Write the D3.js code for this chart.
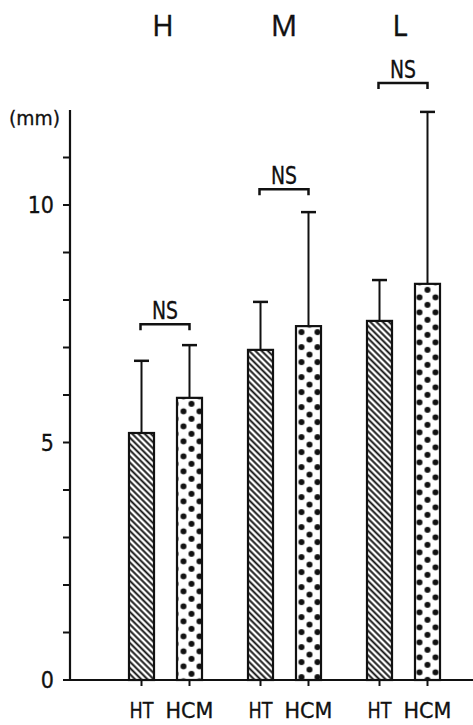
<!DOCTYPE html>
<html><head><meta charset="utf-8">
<script src="https://cdn.jsdelivr.net/npm/d3@7"></script>
<style>body{margin:0;background:#fff}svg{display:block}</style>
</head><body>
<script>
const groups = ["H","M","L"];
const subgroups = ["HT","HCM"];
const means = {H:[5.2,5.94], M:[6.95,7.45], L:[7.56,8.34]};
const upper = {H:[6.72,7.05], M:[7.96,9.85], L:[8.42,11.96]};
const sigLabels = ["NS","NS","NS"];
const yTickLabels = [0,5,10];
const yMinorTicks = [0,1,2,3,4,5,6,7,8,9,10,11];

const W=473,H=725;
const FONT="DejaVu Sans Condensed, sans-serif";
const svg=d3.select("body").append("svg").attr("width",W).attr("height",H);
const defs=svg.append("defs");
const hatch=defs.append("pattern").attr("id","hatch").attr("patternUnits","userSpaceOnUse")
  .attr("width",4.4).attr("height",4.4).attr("patternTransform","rotate(45)");
hatch.append("rect").attr("width",4.4).attr("height",4.4).attr("fill","#fff");
hatch.append("line").attr("x1",0).attr("y1",2.2).attr("x2",4.4).attr("y2",2.2).attr("stroke","#111").attr("stroke-width",1.9);

const y=d3.scaleLinear().domain([0,12]).range([680,110]);
const x0=d3.scaleBand().domain(groups).range([106,463]);
const x1=d3.scaleBand().domain(subgroups).range([23,96]).paddingInner(0.479);

groups.forEach(gk=>{
  const cx=x0(gk)+x1("HCM")+x1.bandwidth()/2;
  const p=defs.append("pattern").attr("id","dots"+gk).attr("patternUnits","userSpaceOnUse")
    .attr("width",16).attr("height",15).attr("x",cx-8).attr("y",y(means[gk][1])+3);
  p.append("rect").attr("width",16).attr("height",15).attr("fill","#fff");
  p.append("circle").attr("cx",0).attr("cy",3).attr("r",3).attr("fill","#111");
  p.append("circle").attr("cx",16).attr("cy",3).attr("r",3).attr("fill","#111");
  p.append("circle").attr("cx",8).attr("cy",10.5).attr("r",3).attr("fill","#111");
});

const ax=svg.append("g").attr("transform","translate(70,0)");
ax.append("line").attr("x1",0).attr("x2",0).attr("y1",y(0)+1).attr("y2",y(12)).attr("stroke","#111").attr("stroke-width",2.2);
ax.selectAll(".t").data(yMinorTicks).join("line").attr("x1",-7).attr("x2",0)
  .attr("y1",d=>y(d)).attr("y2",d=>y(d)).attr("stroke","#111").attr("stroke-width",2);
ax.selectAll(".tl").data(yTickLabels).join("text").attr("x",-16).attr("y",d=>y(d)+8)
  .attr("text-anchor","end").attr("font-family",FONT).attr("font-size",23).attr("fill","#111")
  .attr("stroke","#111").attr("stroke-width",0.3).text(d=>d);
svg.append("text").attr("x",9).attr("y",125).attr("font-family",FONT).attr("font-size",20)
  .attr("textLength",51).attr("lengthAdjust","spacingAndGlyphs").attr("fill","#111")
  .attr("stroke","#111").attr("stroke-width",0.3).text("(mm)");

svg.append("line").attr("x1",70).attr("x2",473).attr("y1",y(0)).attr("y2",y(0)).attr("stroke","#111").attr("stroke-width",2.2);

const g=svg.selectAll(".grp").data(groups).join("g").attr("transform",d=>`translate(${x0(d)},0)`);
groups.forEach((gk,gi)=>{
  const gg=d3.select(g.nodes()[gi]);
  subgroups.forEach((s,si)=>{
    const bx=x1(s), bw=x1.bandwidth(), cx=bx+bw/2;
    gg.append("line").attr("x1",cx).attr("x2",cx).attr("y1",y(means[gk][si])).attr("y2",y(upper[gk][si])).attr("stroke","#111").attr("stroke-width",2);
    gg.append("line").attr("x1",cx-7.5).attr("x2",cx+7.5).attr("y1",y(upper[gk][si])).attr("y2",y(upper[gk][si])).attr("stroke","#111").attr("stroke-width",2.5);
    gg.append("rect").attr("x",bx).attr("width",bw).attr("y",y(means[gk][si])).attr("height",y(0)-y(means[gk][si]))
      .attr("fill",si===0?"url(#hatch)":`url(#dots${gk})`).attr("stroke","#111").attr("stroke-width",2.2);
    gg.append("line").attr("x1",cx).attr("x2",cx).attr("y1",y(0)).attr("y2",y(0)+6).attr("stroke","#111").attr("stroke-width",2);
    gg.append("text").attr("x",cx).attr("y",718).attr("text-anchor","middle")
      .attr("font-family",FONT).attr("font-size",22)
      .attr("textLength",si===0?24:48).attr("lengthAdjust","spacingAndGlyphs").attr("fill","#111")
      .attr("stroke","#111").attr("stroke-width",0.3).text(s);
  });
  const c1=x1("HT")+x1.bandwidth()/2-1, c2=x1("HCM")+x1.bandwidth()/2;
  const byy = y(upper[gk][1]) - (gk==="H"?21:gk==="M"?23:29);
  gg.append("path").attr("d",`M${c1},${byy+6}V${byy}H${c2}V${byy+6}`).attr("fill","none").attr("stroke","#111").attr("stroke-width",2.5);
  gg.append("text").attr("x",(c1+c2)/2).attr("y",byy-5).attr("text-anchor","middle")
    .attr("font-family",FONT).attr("font-size",25)
    .attr("textLength",26).attr("lengthAdjust","spacingAndGlyphs").attr("fill","#111")
    .attr("stroke","#111").attr("stroke-width",0.3).text(sigLabels[gi]);
  gg.append("text").attr("x",(c1+c2)/2+(gi===0?-2:gi===2?-3:0)).attr("y",36).attr("text-anchor","middle")
    .attr("font-family","Open Sans, sans-serif").attr("font-size",29).attr("fill","#111")
    .attr("stroke","#111").attr("stroke-width",0.4).text(gk);
});
</script>
</body></html>
